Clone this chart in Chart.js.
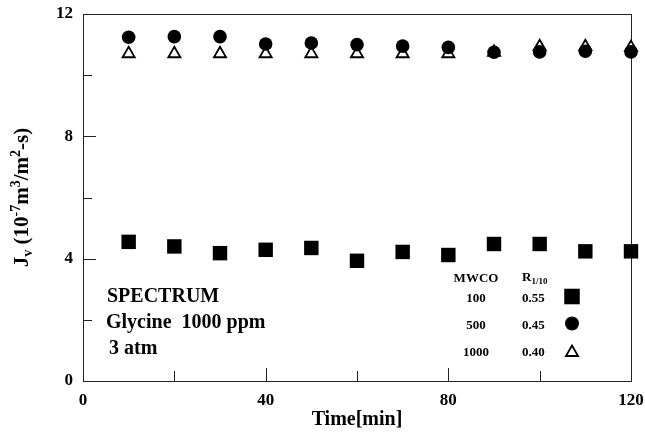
<!DOCTYPE html>
<html>
<head>
<meta charset="utf-8">
<style>
  html, body { margin: 0; padding: 0; background: #fff; }
  #wrap { width: 645px; height: 437px; }
</style>
<script src="https://cdn.jsdelivr.net/npm/chart.js@4.4.0/dist/chart.umd.min.js"></script>
</head>
<body>
<div id="wrap"><canvas id="flux" width="645" height="437"></canvas></div>
<script>
// ── Data ──────────────────────────────────────────────────
const times     = [10, 20, 30, 40, 50, 60, 70, 80, 90, 100, 110, 120];
const flux100   = [4.55, 4.40, 4.18, 4.29, 4.35, 3.93, 4.22, 4.12, 4.48, 4.48, 4.24, 4.24];
const flux500   = [11.24, 11.26, 11.26, 11.02, 11.05, 11.00, 10.95, 10.91, 10.75, 10.76, 10.78, 10.76];
const flux1000  = [10.70, 10.70, 10.70, 10.70, 10.70, 10.70, 10.70, 10.70, 10.75, 10.93, 10.93, 10.90];

const xLabels   = [0, 40, 80, 120];
const yLabels   = [0, 4, 8, 12];

const mwco      = ['100', '500', '1000'];
const rRatio    = ['0.55', '0.45', '0.40'];
const noteLines = ['SPECTRUM', 'Glycine  1000 ppm', '3 atm'];

const SERIF = '"Liberation Serif", "DejaVu Serif", serif';
Chart.defaults.font.family = SERIF;
Chart.defaults.color = '#000';

const toXY = ys => times.map((t, i) => ({ x: t, y: ys[i] }));

// marker styles, same order as the legend rows
const markers = [
  { style: 'rect',     radius: 10.2, fill: '#000', border: 0 },
  { style: 'circle',   radius: 6.8,  fill: '#000', border: 0 },
  { style: 'triangle', radius: 7,    fill: '#fff', border: 1.8 }
];

function pointDataset(ys, m) {
  return {
    data: toXY(ys),
    showLine: false,
    clip: false,
    pointStyle: m.style,
    pointRadius: m.radius,
    pointBackgroundColor: m.fill,
    pointBorderColor: '#000',
    pointBorderWidth: m.border
  };
}

// ── Frame + inward ticks ───────────────────────────────────
const framePlugin = {
  id: 'frame',
  beforeDatasetsDraw(chart) {
    const { ctx, chartArea: a, scales: { x, y } } = chart;
    ctx.save();
    ctx.strokeStyle = '#222';
    ctx.lineWidth = 1;
    ctx.strokeRect(a.left + 0.5, a.top + 0.5, a.right - a.left, a.bottom - a.top);
    ctx.beginPath();
    y.ticks.forEach(t => {
      const py = Math.round(y.getPixelForValue(t.value)) + 0.5;
      const len = t.value % 4 === 0 ? 13 : 9;
      ctx.moveTo(a.left, py); ctx.lineTo(a.left + len, py);
    });
    x.ticks.forEach(t => {
      const px = Math.round(x.getPixelForValue(t.value)) + 0.5;
      const len = t.value % 40 === 0 ? 13 : 10;
      ctx.moveTo(px, a.bottom); ctx.lineTo(px, a.bottom - len);
    });
    ctx.stroke();
    ctx.restore();
  }
};

// text drawn as runs so sub/superscripts line up
function drawRuns(ctx, runs, x, y, align) {
  const widths = runs.map(r => { ctx.font = `bold ${r.size}px ${SERIF}`; return ctx.measureText(r.text).width; });
  const total = widths.reduce((s, w) => s + w, 0);
  let cx = align === 'center' ? x - total / 2 : x;
  ctx.textAlign = 'left';
  ctx.textBaseline = 'alphabetic';
  runs.forEach((r, i) => {
    ctx.font = `bold ${r.size}px ${SERIF}`;
    ctx.fillText(r.text, cx, y + (r.dy || 0));
    cx += widths[i];
  });
}

// ── Titles, notes and legend table ─────────────────────────
const textPlugin = {
  id: 'texts',
  afterDraw(chart) {
    const { ctx, chartArea: a } = chart;
    ctx.save();
    ctx.fillStyle = '#000';

    // x title
    drawRuns(ctx, [{ text: 'Time[min]', size: 20 }], (a.left + a.right) / 2, 425, 'center');

    // y title (rotated)
    ctx.save();
    ctx.translate(28, (a.top + a.bottom) / 2);
    ctx.rotate(-Math.PI / 2);
    drawRuns(ctx, [
      { text: 'J', size: 21 },
      { text: 'v', size: 14, dy: 4 },
      { text: ' (10', size: 21 },
      { text: '-7', size: 14, dy: -8 },
      { text: 'm', size: 21 },
      { text: '3', size: 14, dy: -8 },
      { text: '/m', size: 21 },
      { text: '2', size: 14, dy: -8 },
      { text: '-s)', size: 21 }
    ], 0, 0, 'center');
    ctx.restore();

    // notes
    const noteY = [302, 328, 354];
    const noteX = [107, 106, 109];
    noteLines.forEach((s, i) => drawRuns(ctx, [{ text: s, size: 20 }], noteX[i], noteY[i], 'left'));

    // legend table
    drawRuns(ctx, [{ text: 'MWCO', size: 13 }], 476, 281.5, 'center');
    drawRuns(ctx, [{ text: 'R', size: 13 }, { text: '1/10', size: 9, dy: 3 }], 522, 281, 'left');
    const rowY = [301.5, 329.3, 356];
    const markY = [296.5, 323.5, 352.5];
    const legendR = [11, 7, 7];
    mwco.forEach((s, i) => {
      drawRuns(ctx, [{ text: s, size: 13 }], 476, rowY[i], 'center');
      drawRuns(ctx, [{ text: rRatio[i], size: 13 }], 522, rowY[i], 'left');
      const m = markers[i];
      ctx.save();
      ctx.fillStyle = m.fill;
      ctx.strokeStyle = '#000';
      ctx.lineWidth = m.border;
      Chart.helpers.drawPoint(ctx, { pointStyle: m.style, radius: legendR[i], borderWidth: m.border, rotation: 0 }, 572, markY[i]);
      ctx.restore();
    });
    ctx.restore();
  }
};

// ── Chart ──────────────────────────────────────────────────
new Chart(document.getElementById('flux'), {
  type: 'scatter',
  data: {
    datasets: [
      pointDataset(flux500, markers[1]),
      pointDataset(flux1000, markers[2]),
      pointDataset(flux100, markers[0])
    ]
  },
  options: {
    responsive: false,
    animation: false,
    events: [],
    layout: { padding: { top: 14, right: 14, left: 0, bottom: 0 } },
    plugins: { legend: { display: false }, tooltip: { enabled: false } },
    scales: {
      x: {
        type: 'linear', min: 0, max: 120,
        grid: { display: false, drawTicks: false },
        border: { display: false },
        ticks: {
          stepSize: 20, autoSkip: false, maxRotation: 0, padding: 9,
          font: { size: 17, weight: 'bold' },
          callback: v => xLabels.includes(v) ? String(v) : ''
        },
        afterFit: s => { s.height = 56; s.paddingLeft = 0; s.paddingRight = 0; }
      },
      y: {
        type: 'linear', min: 0, max: 12,
        grid: { display: false, drawTicks: false },
        border: { display: false },
        ticks: {
          stepSize: 2, autoSkip: false, padding: 10,
          font: { size: 17, weight: 'bold' },
          callback: v => yLabels.includes(v) ? String(v) : ''
        },
        afterFit: s => { s.width = 83; s.paddingTop = 0; s.paddingBottom = 0; }
      }
    }
  },
  plugins: [framePlugin, textPlugin]
});
</script>
</body>
</html>
